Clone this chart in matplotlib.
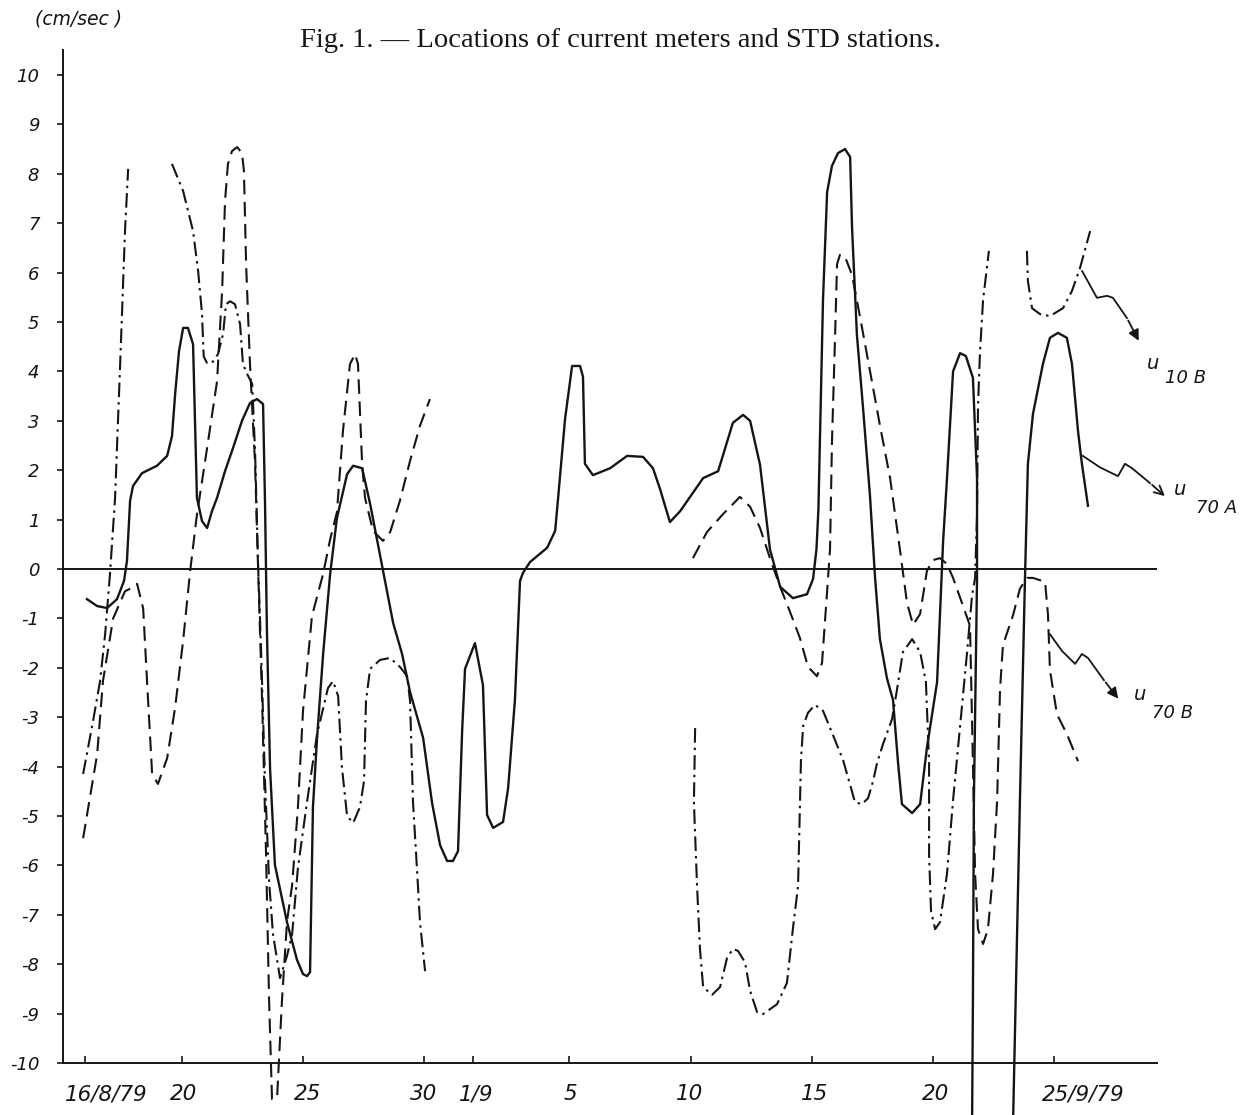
import matplotlib
matplotlib.use("Agg")
import matplotlib.pyplot as plt

# x: days since 16 Aug 1979, y: current speed (cm/sec)
u70a_seg1 = [(0.08,-0.61),(0.5,-0.75),(0.91,-0.79),(1.32,-0.61),(1.61,-0.24),(1.73,0.16),(1.86,1.38),
    (1.98,1.68),(2.35,1.94),(2.97,2.09),(3.39,2.29),(3.59,2.69),(3.72,3.54),(3.88,4.41),(4.05,4.88),
    (4.25,4.88),(4.46,4.55),(4.54,3.0),(4.62,1.44),(4.83,0.97),(5.04,0.83),(5.24,1.17),(5.45,1.44),
    (5.78,1.98),(6.11,2.45),(6.48,3.0),(6.81,3.36),(7.1,3.44),(7.35,3.34),(7.43,1.38),(7.51,-1.26),
    (7.64,-4.05),(7.84,-5.99),(8.34,-7.15),(8.75,-7.91),(9.0,-8.2),(9.17,-8.24),(9.29,-8.16),
    (9.41,-4.82),(9.58,-3.42),(9.83,-1.72),(10.12,-0.1),(10.4,1.03),(10.82,1.92),(11.07,2.09),
    (11.44,2.04),(11.77,1.32),(12.3,-0.02),(12.72,-1.09),(13.09,-1.72),(13.42,-2.49),(13.96,-3.42),
    (14.33,-4.74),(14.66,-5.59),(14.95,-5.91),(15.19,-5.91),(15.4,-5.71),(15.57,-3.28),(15.69,-2.02),
    (16.1,-1.5),(16.43,-2.35),(16.6,-4.98),(16.85,-5.24),(17.26,-5.12),(17.47,-4.43),(17.75,-2.65),
    (17.96,-0.24),(18.08,-0.08),(18.37,0.14),(19.08,0.43),(19.41,0.77),(19.53,1.42),(19.82,3.04),
    (20.11,4.11),(20.44,4.11),(20.56,3.89),(20.64,2.13),(20.97,1.9),(21.68,2.04),(22.38,2.29),
    (23.04,2.27),(23.45,2.04),(23.74,1.62),(24.15,0.95),(24.57,1.17),(25.52,1.84),(26.14,1.98),
    (26.75,2.96),(27.17,3.12),(27.46,3.0),(27.87,2.11),(28.28,0.4),(28.7,-0.36),(29.23,-0.59),
    (29.81,-0.51),(30.06,-0.2),(30.2,0.4),(30.28,1.2),(30.47,5.45),(30.64,7.63),(30.84,8.16),
    (31.09,8.42),(31.38,8.5),(31.59,8.34),(31.67,6.9),(31.87,4.74),(32.12,3.28),(32.41,1.48),
    (32.62,-0.18),(32.82,-1.42),(33.11,-2.21),(33.36,-2.65),(33.57,-3.93),(33.73,-4.76),(34.15,-4.94),
    (34.48,-4.76),(34.76,-3.62),(35.18,-2.29),(35.43,0.57),(35.59,1.84),(35.84,4.0),(36.13,4.37),
    (36.37,4.31),(36.66,3.87),(36.83,1.84),(36.83,-0.18),(36.7,-4.7),(36.66,-8.74),(36.62,-11.6)]
u70a_seg2 = [(38.3,-11.6),(38.6,-4.7),(38.81,-0.18),(38.93,2.13),(39.14,3.14),(39.55,4.15),(39.84,4.68),
    (40.17,4.78),(40.54,4.68),(40.75,4.15),(41.0,2.79),(41.16,2.13),(41.41,1.28)]

u70b_seg1 = [(-0.08,-5.45),(0.5,-3.75),(0.74,-2.27),(1.16,-1.0),(1.65,-0.45),(1.94,-0.38),(2.15,-0.3),
    (2.4,-0.8),(2.56,-2.27),(2.77,-4.15),(3.01,-4.35),(3.39,-3.83),(3.72,-2.8),(4.05,-1.45),(4.34,-0.04),
    (4.62,1.1),(5.04,2.45),(5.45,3.8),(5.66,5.63),(5.78,7.45),(5.9,8.2),(6.07,8.46),(6.28,8.54),
    (6.48,8.42),(6.56,8.06),(6.65,6.17),(6.81,4.15),(7.02,2.13),(7.14,0.1),(7.31,-2.67),(7.47,-5.7),
    (7.6,-8.74),(7.72,-10.73),(7.93,-10.7),(8.13,-8.74),(8.34,-7.13),(8.55,-6.4),(8.79,-4.82),
    (9.0,-2.87),(9.37,-0.95),(9.83,-0.1),(10.12,0.6),(10.4,1.15),(10.65,2.8),(10.94,4.15),(11.15,4.35),
    (11.27,4.15),(11.44,2.13),(11.56,1.44),(11.89,0.77),(12.3,0.57),(12.6,0.75),(13.0,1.38),
    (13.42,2.19),(13.83,2.9),(14.24,3.44)]
u70b_seg2 = [(25.1,0.22),(25.68,0.75),(26.34,1.11),(27.04,1.46),(27.46,1.26),(27.87,0.83),(28.28,0.22),
    (28.7,-0.36),(29.11,-0.87),(29.52,-1.4),(29.85,-1.98),(30.22,-2.17),(30.43,-1.9),(30.64,-0.45),
    (30.76,0.4),(30.84,2.57),(30.97,4.74),(31.05,6.17),(31.17,6.36),(31.38,6.32),(31.67,5.95),
    (32.0,5.1),(32.41,4.01),(32.82,2.91),(33.24,1.84),(33.65,0.38),(33.94,-0.69),(34.19,-1.13),
    (34.48,-0.91),(34.76,-0.04),(35.01,0.18),(35.3,0.22),(35.59,0.1),(35.84,-0.18),(36.21,-0.69),
    (36.54,-1.15),(36.66,-3.93),(36.75,-6.17),(36.87,-7.29),(37.08,-7.59),(37.28,-7.29),(37.49,-6.17),
    (37.66,-4.68),(37.78,-2.43),(37.9,-1.54),(38.32,-0.93),(38.6,-0.4),(38.89,-0.18),(39.14,-0.18),
    (39.64,-0.26),(39.76,-0.93),(39.84,-2.04),(40.13,-2.94),(40.54,-3.34),(41.0,-3.89)]

u10b_seg1 = [(-0.08,-4.15),(0.33,-3.08),(0.62,-2.27),(0.83,-1.32),(1.03,-0.1),(1.24,1.44),(1.45,4.15),
    (1.65,6.84),(1.78,8.1)]
u10b_seg2 = [(3.59,8.2),(4.05,7.65),(4.46,6.84),(4.67,6.03),(4.83,5.16),(4.9,4.3),(5.04,4.17),(5.24,4.17),
    (5.49,4.35),(5.7,4.76),(5.82,5.36),(5.99,5.42),(6.19,5.36),(6.4,4.96),(6.52,4.15),(6.69,3.95),
    (6.9,3.75),(7.02,2.39),(7.14,0.16),(7.27,-1.66),(7.43,-4.29),(7.6,-6.32),(7.76,-7.39),(8.05,-8.28),
    (8.34,-7.83),(8.55,-7.39),(8.79,-6.05),(9.17,-4.7),(9.58,-3.34),(10.03,-2.41),(10.24,-2.27),
    (10.45,-2.57),(10.61,-4.03),(10.82,-5.0),(11.07,-5.14),(11.35,-4.82),(11.52,-4.29),(11.6,-2.67),
    (11.77,-2.02),(12.18,-1.84),(12.59,-1.8),(13.0,-1.98),(13.3,-2.17),(13.42,-2.67),(13.54,-4.7),
    (13.71,-6.11),(13.83,-7.15),(14.04,-8.14)]
u10b_seg3 = [(25.19,-3.22),(25.14,-4.72),(25.27,-6.42),(25.39,-7.69),(25.52,-8.46),(25.89,-8.62),
    (26.22,-8.46),(26.51,-7.87),(26.75,-7.69),(26.96,-7.73),(27.25,-7.96),(27.46,-8.54),(27.75,-8.97),
    (27.99,-9.01),(28.57,-8.81),(28.98,-8.38),(29.23,-7.27),(29.44,-6.42),(29.52,-4.72),(29.56,-3.87),
    (29.65,-3.18),(29.85,-2.91),(30.14,-2.75),(30.47,-2.87),(30.88,-3.36),(31.3,-3.87),(31.59,-4.37),
    (31.79,-4.72),(32.08,-4.76),(32.33,-4.64),(32.54,-4.29),(32.7,-3.93),(32.95,-3.54),(33.32,-3.04),
    (33.53,-2.43),(33.77,-1.68),(34.15,-1.42),(34.48,-1.68),(34.72,-2.29),(34.85,-3.93),(34.85,-5.79),
    (34.93,-6.92),(35.1,-7.29),(35.3,-7.15),(35.59,-6.17),(35.84,-4.68),(36.13,-3.18),(36.42,-1.68),
    (36.62,-0.55),(36.75,-0.18),(36.83,1.11),(36.87,3.28),(36.95,4.37),(37.08,5.45),(37.32,6.44)]
u10b_seg4 = [(38.89,6.44),(38.93,5.83),(39.1,5.28),(39.43,5.16),(39.84,5.12),(40.38,5.28),(40.75,5.63),
    (41.08,6.09),(41.5,6.84)]

tick_days = [0, 4, 9, 14, 16, 20, 25, 30, 35, 40]
tick_labels = ["16/8/79", "20", "25", "30", "1/9", "5", "10", "15", "20", "25/9/79"]
label_days = [0.87, 4.08, 9.2, 13.96, 16.15, 20.03, 24.98, 30.14, 35.1, 41.2]
y_ticks = list(range(-10, 11))

# hand-drawn label pointers (annotation paths)
ptr_10b = [(41.17, 6.03), (41.78, 5.49), (42.2, 5.53), (42.44, 5.49), (43.02, 5.08), (43.56, 4.57)]
ptr_70a = [(41.2, 2.29), (41.9, 2.06), (42.65, 1.88), (42.94, 2.13), (43.23, 2.04), (43.97, 1.74), (44.67, 1.44)]
ptr_70b = [(39.84, -1.32), (40.34, -1.66), (40.88, -1.92), (41.16, -1.72), (41.41, -1.8), (42.07, -2.25), (42.73, -2.67)]

INK = "#151515"
fig = plt.figure(figsize=(12.55, 11.15), dpi=100)
ax = fig.add_axes([0.0502, 0.0466, 0.8717, 0.9083])
ax.set_xlim(-0.91, 44.26)
ax.set_ylim(-10, 10.5)

solid = dict(color=INK, lw=1.7, ls="-", clip_on=False, solid_joinstyle="round")
dashed = dict(color=INK, lw=1.5, ls=(0, (7, 3.6)), clip_on=False)
dashdot = dict(color=INK, lw=1.5, ls=(0, (7, 2.4, 1.2, 2.4)), clip_on=False)

def draw(seg, style):
    xs, ys = zip(*seg)
    ax.plot(xs, ys, **style)

for s in (u70a_seg1, u70a_seg2):
    draw(s, solid)
for s in (u70b_seg1, u70b_seg2):
    draw(s, dashed)
for s in (u10b_seg1, u10b_seg2, u10b_seg3, u10b_seg4):
    draw(s, dashdot)

ax.axhline(0, color=INK, lw=1.4)

for sp in ("top", "right"):
    ax.spines[sp].set_visible(False)
for sp in ("left", "bottom"):
    ax.spines[sp].set_color(INK)
    ax.spines[sp].set_linewidth(1.4)

ax.set_yticks(y_ticks)
ax.set_yticklabels([str(v) for v in y_ticks], fontstyle="italic", fontsize=13, color=INK)
ax.tick_params(axis="y", direction="out", length=4, width=1.2, pad=13, colors=INK)
ax.set_xticks(tick_days)
ax.set_xticklabels([])
ax.tick_params(axis="x", direction="in", length=5, width=1.2, colors=INK)

for d, lab in zip(label_days, tick_labels):
    ax.text(d, -10.63, lab, ha="center", va="center", fontstyle="italic", fontsize=15.5, color=INK)

# pointers with labels
for path, head in ((ptr_10b, "-|>"), (ptr_70a, "->"), (ptr_70b, "-|>")):
    xs, ys = zip(*path)
    ax.plot(xs[:-1], ys[:-1], color=INK, lw=1.3, clip_on=False)
    ax.annotate("", xy=path[-1], xytext=path[-2],
                arrowprops=dict(arrowstyle=head, color=INK, lw=1.3, mutation_scale=16),
                annotation_clip=False)

for (ux, uy), (sx, sy), sub in (((44.1, 4.15), (45.46, 3.87), "10 B"),
                                ((45.21, 1.6), (46.7, 1.23), "70 A"),
                                ((43.56, -2.55), (44.92, -2.91), "70 B")):
    ax.text(ux, uy, "u", fontstyle="italic", fontsize=14, ha="center", va="center", color=INK)
    ax.text(sx, sy, sub, fontstyle="italic", fontsize=13, ha="center", va="center", color=INK)

fig.text(0.494, 0.964, "Fig. 1. \u2014 Locations of current meters and STD stations.",
         ha="center", va="center", fontsize=20.5, family="Liberation Serif", color=INK)
fig.text(0.028, 0.983, "(cm/sec )", ha="left", va="center", fontstyle="italic", fontsize=13.5, color=INK)

fig.savefig("out.png", dpi=100, facecolor="white")
